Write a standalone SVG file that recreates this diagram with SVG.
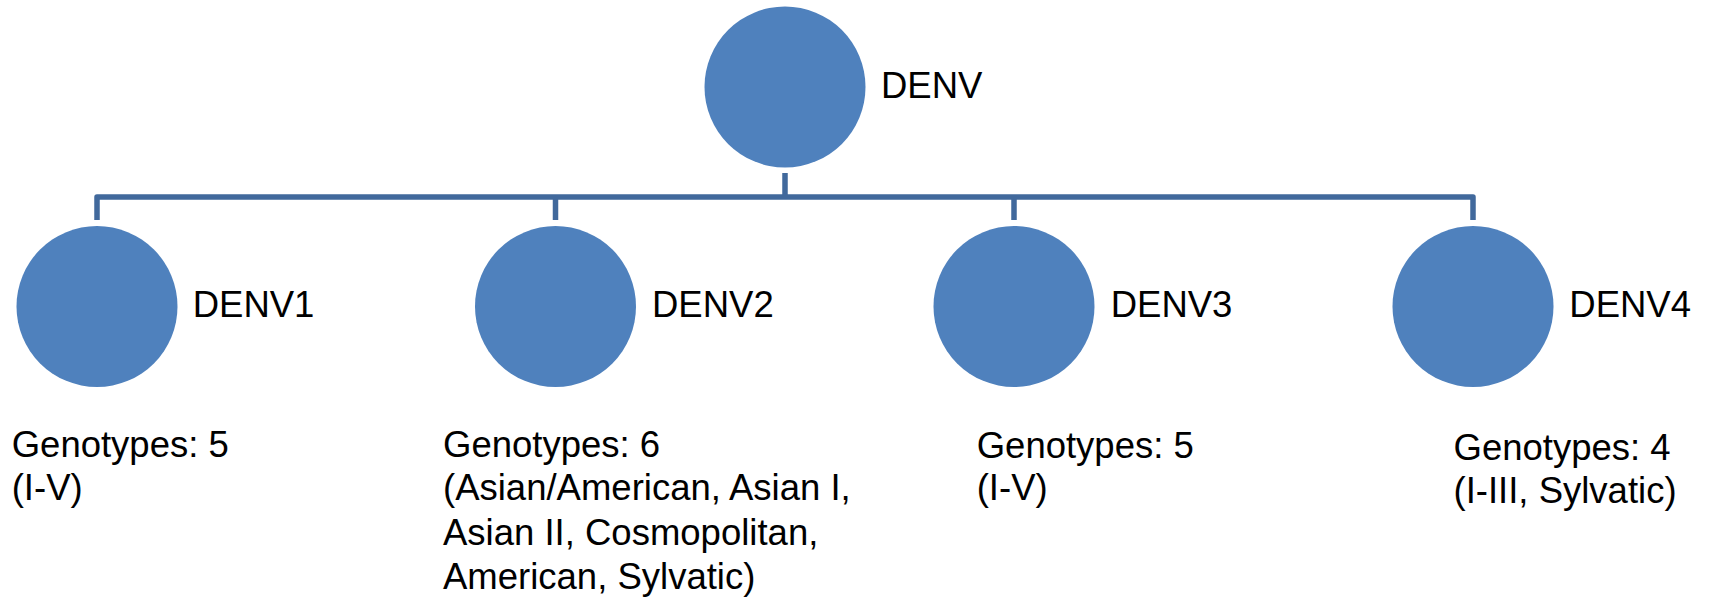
<svg xmlns="http://www.w3.org/2000/svg" width="1709" height="601" viewBox="0 0 1709 601">
<style>
.node{fill:#4F81BD;}
.lbl{font-family:"Liberation Sans",Arial,sans-serif;font-size:36.5px;fill:#000;}
.conn{stroke:#41699C;stroke-width:5.5;fill:none;stroke-linejoin:round;}
</style>
<rect width="1709" height="601" fill="#fff"/>
<g id="connectors">
<path class="conn" d="M785,173 V197 M97,220 V197 H1473 V220 M555.5,197 V220 M1014,197 V220"/>
</g>
<g id="denv">
<circle class="node" cx="785" cy="87" r="80.5"/>
<text class="lbl" x="881" y="97.7">DENV</text>
</g>
<g id="denv1">
<circle class="node" cx="97" cy="306.5" r="80.5"/>
<text class="lbl" x="192.7" y="316.7">DENV1</text>
<text class="lbl" x="11.7" y="456.7">Genotypes: 5<tspan x="11.7" dy="43">(I-V)</tspan></text>
</g>
<g id="denv2">
<circle class="node" cx="555.5" cy="306.5" r="80.5"/>
<text class="lbl" x="652" y="316.7">DENV2</text>
<text class="lbl" x="443" y="456.7">Genotypes: 6<tspan x="443" dy="43.5">(Asian/American, Asian I,</tspan><tspan x="443" dy="44.3">Asian II, Cosmopolitan,</tspan><tspan x="443" dy="44.3">American, Sylvatic)</tspan></text>
</g>
<g id="denv3">
<circle class="node" cx="1014" cy="306.5" r="80.5"/>
<text class="lbl" x="1110.7" y="316.7">DENV3</text>
<text class="lbl" x="976.7" y="457.7">Genotypes: 5<tspan x="976.7" dy="42.5">(I-V)</tspan></text>
</g>
<g id="denv4">
<circle class="node" cx="1473" cy="306.5" r="80.5"/>
<text class="lbl" x="1569.3" y="316.7">DENV4</text>
<text class="lbl" x="1453.5" y="460">Genotypes: 4<tspan x="1453.5" dy="42.7">(I-III, Sylvatic)</tspan></text>
</g>
</svg>
